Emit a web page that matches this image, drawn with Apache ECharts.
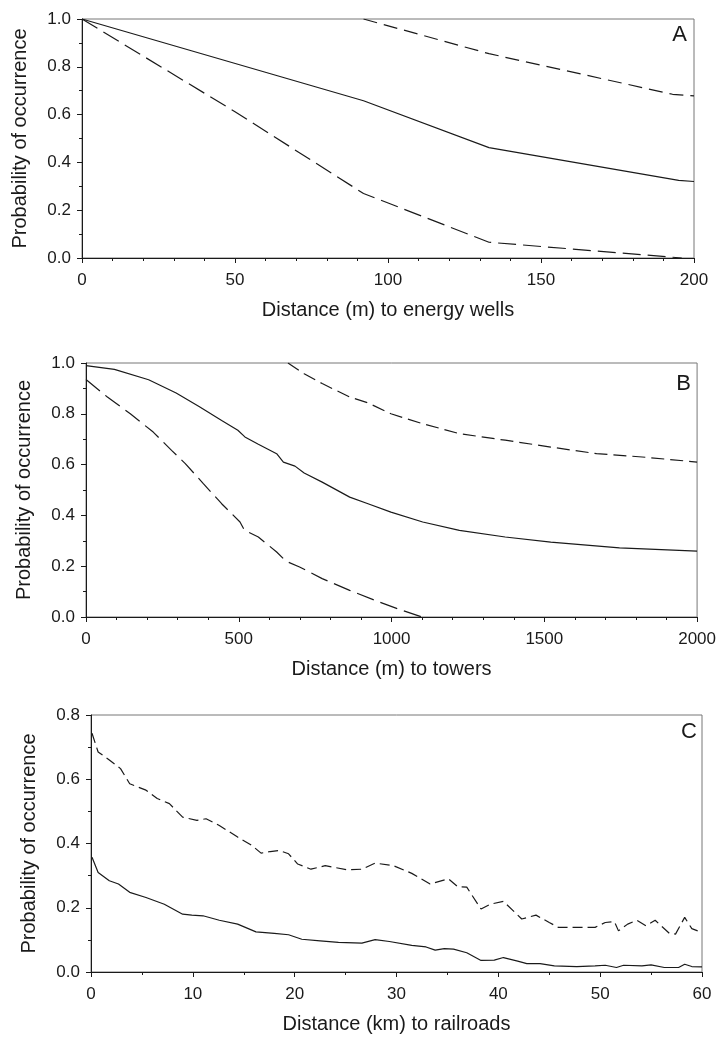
<!DOCTYPE html>
<html>
<head>
<meta charset="utf-8">
<script src="https://cdn.jsdelivr.net/npm/echarts@6/dist/echarts.min.js"></script>
<style>
html,body{margin:0;padding:0;background:#fff;}
#chart{width:719px;height:1038px;}
</style>
</head>
<body>
<div id="chart"></div>
<script>
// ---------- Panel A: energy wells (m) ----------
const wellsMean  = [[0,1.0],[92,0.658],[133,0.462],[195,0.325],[200,0.32]];
const wellsLower = [[0,1.0],[50,0.612],[92,0.27],[133,0.066],[196,0.0]];
const wellsUpper = [[92,1.0],[133,0.855],[193,0.685],[200,0.678]];

// ---------- Panel B: towers (m) ----------
const towersMean = [[0,0.99],[93,0.975],[205,0.934],[295,0.882],[370,0.829],[444,0.774],[497,0.735],
  [520,0.709],[564,0.68],[624,0.643],[646,0.61],[684,0.594],[714,0.567],[773,0.531],[863,0.472],
  [923,0.446],[998,0.413],[1102,0.374],[1222,0.341],[1372,0.315],[1521,0.295],[1746,0.272],[2000,0.259]];
const towersLower = [[0,0.935],[70,0.866],[145,0.80],[220,0.728],[280,0.656],[325,0.604],[384,0.525],
  [444,0.446],[504,0.374],[519,0.341],[564,0.315],[624,0.256],[654,0.22],[699,0.197],[773,0.151],
  [863,0.105],[953,0.062],[1028,0.029],[1100,0.0]];
const towersUpper = [[661,1.0],[714,0.958],[773,0.919],[863,0.866],[923,0.843],[998,0.80],[1102,0.761],
  [1222,0.722],[1372,0.696],[1521,0.669],[1671,0.643],[1820,0.63],[2000,0.61]];

// ---------- Panel C: railroads (km) ----------
const railMean = [[0.1,0.357],[0.7,0.31],[1.8,0.284],[2.7,0.274],[3.8,0.248],[5.4,0.232],[7.2,0.211],
  [9.0,0.18],[9.9,0.177],[11,0.175],[12.6,0.161],[14.4,0.149],[16.2,0.125],[18,0.12],[19.4,0.116],
  [20.7,0.102],[22.5,0.097],[24.3,0.092],[26.6,0.09],[27.9,0.101],[29.3,0.095],[31.5,0.083],[32.9,0.078],
  [33.8,0.068],[34.7,0.073],[35.6,0.071],[36.9,0.06],[38.3,0.036],[39.6,0.037],[40.5,0.045],[41.9,0.034],
  [42.8,0.026],[44.1,0.026],[45.5,0.019],[47.7,0.017],[49.5,0.019],[50.5,0.021],[51.6,0.014],[52.3,0.021],
  [54.1,0.019],[55,0.022],[56.3,0.014],[57.7,0.014],[58.3,0.024],[59,0.017],[60,0.016]];
const railUpper = [[0.1,0.743],[0.7,0.685],[1.8,0.66],[2.9,0.633],[3.8,0.586],[5.4,0.566],[6.5,0.54],
  [7.7,0.524],[9.0,0.482],[10.4,0.472],[11.3,0.477],[12.6,0.456],[14.4,0.42],[15.8,0.394],[16.7,0.37],
  [17.6,0.375],[18.5,0.378],[19.4,0.368],[20.3,0.336],[21.6,0.32],[23.0,0.331],[25.2,0.318],[26.6,0.32],
  [27.9,0.339],[29.7,0.331],[31.5,0.307],[33.3,0.274],[35.1,0.29],[36.0,0.266],[36.9,0.264],[38.3,0.196],
  [39.2,0.211],[40.5,0.22],[42.3,0.165],[43.7,0.177],[45.0,0.154],[45.9,0.139],[49.5,0.139],[50.5,0.154],
  [51.4,0.157],[51.8,0.128],[52.7,0.149],[53.6,0.161],[54.5,0.144],[55.4,0.161],[56.8,0.12],[57.4,0.118],
  [58.3,0.17],[59.0,0.135],[60,0.123]];

// ---------- axis settings ----------
const xNames = ['Distance (m) to energy wells','Distance (m) to towers','Distance (km) to railroads'];
const yName = 'Probability of occurrence';
const xRanges = [[0,200,50,5],[0,2000,500,5],[0,60,10,2]];
const yRanges = [[0,1,0.2,2],[0,1,0.2,2],[0,0.8,0.2,2]];
const panelLetters = ['A','B','C'];

const FONT = '"Liberation Sans", Arial, sans-serif';
const INK = '#1a1a1a';

const grids = [
  {left:82, right:25, top:19, height:239},
  {left:86, right:21, top:363, height:254},
  {left:91, right:17, top:715, height:257}
].map(g => Object.assign(g, {show:true, borderColor:'#777', borderWidth:1, containLabel:false}));

function xAxis(i){
  const r = xRanges[i];
  return {
    type:'value', gridIndex:i, min:r[0], max:r[1], interval:r[2],
    name:xNames[i], nameLocation:'middle', nameGap:42,
    nameTextStyle:{fontFamily:FONT, fontSize:20, color:INK},
    axisLine:{show:true, onZero:false, lineStyle:{color:INK, width:1}},
    axisTick:{show:true, inside:false, length:5, lineStyle:{color:INK}},
    minorTick:{show:true, splitNumber:r[3], length:3, lineStyle:{color:INK}},
    axisLabel:{fontFamily:FONT, fontSize:17, color:INK, margin:14, formatter:v => String(v)},
    splitLine:{show:false}
  };
}
function yAxis(i){
  const r = yRanges[i];
  return {
    type:'value', gridIndex:i, min:r[0], max:r[1], interval:r[2],
    name:yName, nameLocation:'middle', nameGap:52,
    nameTextStyle:{fontFamily:FONT, fontSize:20, color:INK},
    axisLine:{show:true, onZero:false, lineStyle:{color:INK, width:1}},
    axisTick:{show:true, inside:false, length:5, lineStyle:{color:INK}},
    minorTick:{show:true, splitNumber:r[3], length:3, lineStyle:{color:INK}},
    axisLabel:{fontFamily:FONT, fontSize:17, color:INK, margin:11, formatter:v => v.toFixed(1)},
    splitLine:{show:false}
  };
}
function line(data, i, dash, name){
  return {
    type:'line', name:name, xAxisIndex:i, yAxisIndex:i, data:data,
    showSymbol:false, symbol:'none', smooth:false, animation:false,
    lineStyle:{color:INK, width:1.2, type: dash || 'solid'}
  };
}

const letterPos = [{right:32, top:24},{right:28, top:373},{right:22, top:721}];
const titles = panelLetters.map((t,i) => Object.assign({
  text:t, padding:0,
  textStyle:{fontFamily:FONT, fontSize:22, fontWeight:'normal', color:INK}
}, letterPos[i]));

const option = {
  backgroundColor:'#fff',
  animation:false,
  title:titles,
  grid:grids,
  xAxis:[0,1,2].map(xAxis),
  yAxis:[0,1,2].map(yAxis),
  series:[
    line(wellsMean,0,null,'wells mean'),
    line(wellsLower,0,[18,7],'wells lower'),
    line(wellsUpper,0,[14,7],'wells upper'),
    line(towersMean,1,null,'towers mean'),
    line(towersLower,1,[18,7],'towers lower'),
    line(towersUpper,1,[13,6],'towers upper'),
    line(railMean,2,null,'rail mean'),
    line(railUpper,2,[10,5],'rail upper')
  ]
};

const chart = echarts.init(document.getElementById('chart'), null, {renderer:'canvas'});
chart.setOption(option);
</script>
</body>
</html>
